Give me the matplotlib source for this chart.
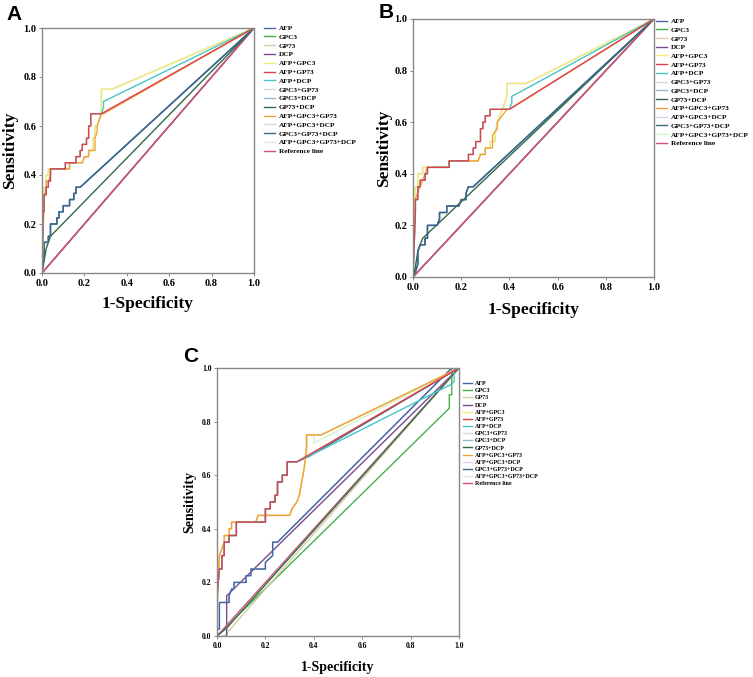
import matplotlib
matplotlib.use("Agg")
import matplotlib.pyplot as plt

plt.rcParams['font.family'] = ['Liberation Serif', 'DejaVu Serif']
plt.rcParams['font.weight'] = 'bold'

# series names and colours (legend order)
NAMES = ["AFP", "GPC3", "GP73", "DCP", "AFP+GPC3", "AFP+GP73", "AFP+DCP",
         "GPC3+GP73", "GPC3+DCP", "GP73+DCP", "AFP+GPC3+GP73", "AFP+GPC3+DCP",
         "GPC3+GP73+DCP", "AFP+GPC3+GP73+DCP", "Reference line"]
COLORS = ["#4a64a8", "#44b04c", "#d8cba4", "#7a4a8e", "#f4ea78", "#e0404a",
          "#48c4c4", "#cfdcdc", "#92b8d8", "#2f6a44", "#f0a23a", "#e4cdea",
          "#3c6a86", "#d4f2d0", "#d8507a"]

# ---- panel A (fpr, tpr) ----
A_TOP_X = [0, 0.005, 0.01, 0.01, 0.02, 0.02, 0.03, 0.03, 0.04, 0.04, 0.11, 0.11, 0.16, 0.16,
           0.18, 0.18, 0.19, 0.19, 0.21, 0.21, 0.22, 0.22, 0.23, 0.23, 0.28]
A_TOP_Y = [0, 0.25, 0.25, 0.32, 0.32, 0.35, 0.35, 0.375, 0.375, 0.425, 0.425, 0.45, 0.45, 0.475,
           0.475, 0.5, 0.5, 0.525, 0.525, 0.55, 0.55, 0.6, 0.6, 0.65, 0.65]
A_RED_X = A_TOP_X + [1.0]
A_RED_Y = A_TOP_Y + [1.0]
A_CYAN_X = A_TOP_X + [0.29, 0.29, 1.0]
A_CYAN_Y = A_TOP_Y + [0.675, 0.70, 1.0]
A_YEL_X = [0, 0.005, 0.01, 0.02, 0.02, 0.03, 0.03, 0.13, 0.13, 0.19, 0.20, 0.22, 0.22, 0.24,
           0.24, 0.25, 0.25, 0.26, 0.27, 0.28, 0.28, 0.33, 1.0]
A_YEL_Y = [0, 0.3, 0.35, 0.35, 0.4, 0.4, 0.425, 0.425, 0.45, 0.45, 0.475, 0.475, 0.5, 0.5,
           0.55, 0.55, 0.6, 0.6, 0.625, 0.65, 0.75, 0.75, 1.0]
A_ORA_X = [0, 0.01, 0.02, 0.02, 0.03, 0.04, 0.04, 0.13, 0.13, 0.19, 0.20, 0.22, 0.22, 0.25,
           0.25, 0.26, 0.26, 0.27, 0.28, 0.29, 1.0]
A_ORA_Y = [0, 0.3, 0.35, 0.375, 0.375, 0.4, 0.425, 0.425, 0.45, 0.45, 0.475, 0.475, 0.5, 0.5,
           0.55, 0.575, 0.6, 0.625, 0.65, 0.65, 1.0]
A_LOW_X = [0, 0.005, 0.01, 0.01, 0.02, 0.03, 0.03, 0.04, 0.04, 0.07, 0.07, 0.08, 0.08, 0.10,
           0.10, 0.13, 0.13, 0.15, 0.15, 0.16, 0.16, 0.18, 1.0]
A_LOW_Y = [0, 0.05, 0.05, 0.125, 0.125, 0.125, 0.15, 0.15, 0.2, 0.2, 0.225, 0.225, 0.25, 0.25,
           0.275, 0.275, 0.3, 0.3, 0.325, 0.325, 0.35, 0.35, 1.0]
A_DG_X = [0, 0.01, 0.02, 0.03, 0.04, 1.0]
A_DG_Y = [0, 0.05, 0.10, 0.125, 0.15, 1.0]

# ---- panel B ----
B_TOP_X = [0, 0.01, 0.01, 0.02, 0.02, 0.03, 0.03, 0.05, 0.05, 0.06, 0.06, 0.15, 0.15, 0.23,
           0.23, 0.25, 0.25, 0.26, 0.26, 0.28, 0.28, 0.29, 0.29, 0.30, 0.30, 0.32, 0.32, 0.40]
B_TOP_Y = [0, 0.25, 0.30, 0.30, 0.35, 0.35, 0.375, 0.375, 0.40, 0.40, 0.425, 0.425, 0.45, 0.45,
           0.475, 0.475, 0.5, 0.5, 0.525, 0.525, 0.575, 0.575, 0.6, 0.6, 0.625, 0.625, 0.65, 0.65]
B_RED_X = B_TOP_X + [1.0]
B_RED_Y = B_TOP_Y + [1.0]
B_CYAN_X = B_TOP_X + [0.41, 0.41, 1.0]
B_CYAN_Y = B_TOP_Y + [0.675, 0.70, 1.0]
B_YEL_X = [0, 0.005, 0.01, 0.02, 0.02, 0.04, 0.04, 0.15, 0.15, 0.27, 0.28, 0.30, 0.30, 0.32,
           0.32, 0.34, 0.34, 0.35, 0.36, 0.38, 0.39, 0.39, 0.47, 1.0]
B_YEL_Y = [0, 0.3, 0.35, 0.35, 0.4, 0.4, 0.425, 0.425, 0.45, 0.45, 0.475, 0.475, 0.5, 0.5,
           0.525, 0.525, 0.55, 0.6, 0.625, 0.675, 0.70, 0.75, 0.75, 1.0]
B_ORA_X = [0, 0.01, 0.02, 0.03, 0.04, 0.05, 0.06, 0.15, 0.15, 0.27, 0.28, 0.30, 0.30, 0.33,
           0.33, 0.35, 0.35, 0.37, 0.39, 0.40, 1.0]
B_ORA_Y = [0, 0.3, 0.33, 0.35, 0.375, 0.40, 0.425, 0.425, 0.45, 0.45, 0.475, 0.475, 0.5, 0.5,
           0.55, 0.575, 0.6, 0.625, 0.65, 0.65, 1.0]
B_LOW_X = [0, 0.01, 0.02, 0.02, 0.03, 0.04, 0.05, 0.05, 0.06, 0.06, 0.10, 0.11, 0.11, 0.14,
           0.14, 0.19, 0.20, 0.22, 0.22, 0.23, 0.25, 1.0]
B_LOW_Y = [0, 0.02, 0.05, 0.10, 0.125, 0.125, 0.125, 0.15, 0.15, 0.2, 0.2, 0.225, 0.25, 0.25,
           0.275, 0.275, 0.3, 0.3, 0.325, 0.35, 0.35, 1.0]
B_DG_X = [0, 0.01, 0.02, 0.03, 0.04, 1.0]
B_DG_Y = [0, 0.04, 0.10, 0.125, 0.15, 1.0]

# ---- panel C ----
C_TOP_X = [0, 0, 0.01, 0.02, 0.02, 0.03, 0.03, 0.05, 0.05, 0.08, 0.08, 0.20, 0.20, 0.22, 0.22,
           0.24, 0.24, 0.25, 0.25, 0.27, 0.27, 0.29, 0.29, 0.33]
C_TOP_Y = [0, 0.15, 0.25, 0.25, 0.30, 0.30, 0.35, 0.35, 0.375, 0.375, 0.425, 0.425, 0.475,
           0.475, 0.5, 0.5, 0.525, 0.525, 0.575, 0.575, 0.6, 0.6, 0.65, 0.65]
C_RED_X = C_TOP_X + [1.0]
C_RED_Y = C_TOP_Y + [1.0]
C_CYAN_X = C_TOP_X + [0.40, 0.97, 0.98, 0.98, 1.0]
C_CYAN_Y = C_TOP_Y + [0.68, 0.94, 0.95, 1.0, 1.0]
C_SLATE_X = C_TOP_X + [0.38, 1.0]
C_SLATE_Y = C_TOP_Y + [0.67, 1.0]
C_YEL_X = [0, 0, 0.01, 0.02, 0.02, 0.03, 0.03, 0.05, 0.05, 0.06, 0.06, 0.16, 0.17, 0.30,
           0.31, 0.33, 0.34, 0.35, 0.36, 0.37, 0.37, 0.43, 1.0]
C_YEL_Y = [0, 0.10, 0.30, 0.325, 0.325, 0.35, 0.375, 0.375, 0.40, 0.40, 0.425, 0.425, 0.45,
           0.45, 0.475, 0.5, 0.525, 0.575, 0.625, 0.70, 0.75, 0.75, 1.0]
C_PG_X = C_YEL_X[:-2] + [0.40, 0.40, 1.0]
C_PG_Y = C_YEL_Y[:-2] + [0.75, 0.72, 1.0]
C_LOW_X = [0, 0.01, 0.01, 0.05, 0.05, 0.06, 0.07, 0.07, 0.10, 0.12, 0.12, 0.14, 0.14, 0.20,
           0.20, 0.23, 0.23, 0.25, 0.97, 1.0]
C_LOW_Y = [0.025, 0.025, 0.125, 0.125, 0.15, 0.175, 0.175, 0.2, 0.2, 0.2, 0.225, 0.225, 0.25,
           0.25, 0.275, 0.3, 0.35, 0.35, 1.0, 1.0]
C_DCP_X = [0.04, 0.04, 1.0]
C_DCP_Y = [0, 0.15, 1.0]
C_GP73_X = [0, 0.03, 1.0]
C_GP73_Y = [0, 0.0, 1.0]
C_GPC3_X = [0, 0.96, 0.96, 0.97, 0.97, 1.0]
C_GPC3_Y = [0, 0.85, 0.90, 0.90, 1.0, 1.0]
C_DG_X = [0, 0.04, 1.0]
C_DG_Y = [0, 0.03, 1.0]
REF_X = [0, 1]
REF_Y = [0, 1]

# name -> curve for every panel
A_CURVES = {"AFP": (A_LOW_X, A_LOW_Y), "GPC3": (REF_X, REF_Y), "GP73": (REF_X, REF_Y),
            "DCP": (REF_X, REF_Y), "AFP+GPC3": (A_YEL_X, A_YEL_Y),
            "AFP+GP73": (A_RED_X, A_RED_Y), "AFP+DCP": (A_CYAN_X, A_CYAN_Y),
            "GPC3+GP73": (A_LOW_X, A_LOW_Y), "GPC3+DCP": (A_LOW_X, A_LOW_Y),
            "GP73+DCP": (A_DG_X, A_DG_Y), "AFP+GPC3+GP73": (A_ORA_X, A_ORA_Y),
            "AFP+GPC3+DCP": (A_YEL_X, A_YEL_Y), "GPC3+GP73+DCP": (A_LOW_X, A_LOW_Y),
            "AFP+GPC3+GP73+DCP": (A_YEL_X, A_YEL_Y), "Reference line": (REF_X, REF_Y)}
B_CURVES = {"AFP": (B_LOW_X, B_LOW_Y), "GPC3": (REF_X, REF_Y), "GP73": (REF_X, REF_Y),
            "DCP": (REF_X, REF_Y), "AFP+GPC3": (B_YEL_X, B_YEL_Y),
            "AFP+GP73": (B_RED_X, B_RED_Y), "AFP+DCP": (B_CYAN_X, B_CYAN_Y),
            "GPC3+GP73": (B_LOW_X, B_LOW_Y), "GPC3+DCP": (B_LOW_X, B_LOW_Y),
            "GP73+DCP": (B_DG_X, B_DG_Y), "AFP+GPC3+GP73": (B_ORA_X, B_ORA_Y),
            "AFP+GPC3+DCP": (B_YEL_X, B_YEL_Y), "GPC3+GP73+DCP": (B_LOW_X, B_LOW_Y),
            "AFP+GPC3+GP73+DCP": (B_YEL_X, B_YEL_Y), "Reference line": (REF_X, REF_Y)}
C_CURVES = {"AFP": (C_LOW_X, C_LOW_Y), "GPC3": (C_GPC3_X, C_GPC3_Y), "GP73": (C_GP73_X, C_GP73_Y),
            "DCP": (C_DCP_X, C_DCP_Y), "AFP+GPC3": (C_YEL_X, C_YEL_Y),
            "AFP+GP73": (C_RED_X, C_RED_Y), "AFP+DCP": (C_CYAN_X, C_CYAN_Y),
            "GPC3+GP73": (C_DG_X, C_DG_Y), "GPC3+DCP": (C_LOW_X, C_LOW_Y),
            "GP73+DCP": (C_DG_X, C_DG_Y), "AFP+GPC3+GP73": (C_YEL_X, C_YEL_Y),
            "AFP+GPC3+DCP": (C_YEL_X, C_YEL_Y), "GPC3+GP73+DCP": (C_SLATE_X, C_SLATE_Y),
            "AFP+GPC3+GP73+DCP": (C_PG_X, C_PG_Y), "Reference line": (REF_X, REF_Y)}

TICKS = [0.0, 0.2, 0.4, 0.6, 0.8, 1.0]


def draw_panel(fig, rect, curves, letter, letter_xy, tick_fs, label_fs, leg_fs, leg_xy,
               leg_space, xlab_y, ylab_x):
    ax = fig.add_axes(rect)
    # draw in an order that keeps the visible top colours on top
    order = [1, 2, 3, 14, 7, 8, 0, 9, 12, 11, 13, 4, 10, 6, 5]
    handles = {}
    for i in order:
        name = NAMES[i]
        x, y = curves[name]
        ln, = ax.plot(x, y, color=COLORS[i], lw=1.0, label=name)
        handles[name] = ln
    ax.set_xlim(0, 1)
    ax.set_ylim(0, 1)
    ax.set_xticks(TICKS)
    ax.set_yticks(TICKS)
    ax.set_xticklabels([f"{t:.1f}" for t in TICKS], fontsize=tick_fs, fontweight='bold')
    ax.set_yticklabels([f"{t:.1f}" for t in TICKS], fontsize=tick_fs, fontweight='bold')
    ax.tick_params(length=2.5, width=0.6, color="#777777", pad=1.5)
    for sp in ax.spines.values():
        sp.set_color("#888888")
        sp.set_linewidth(1.0)
    l, b, w, h = rect
    fig.text(l + w / 2, xlab_y, "1-Specificity", ha='center', va='center',
             fontsize=label_fs, fontweight='bold')
    fig.text(ylab_x, b + h / 2, "Sensitivity", ha='center', va='center', rotation=90,
             fontsize=label_fs, fontweight='bold')
    fig.text(letter_xy[0], letter_xy[1], letter, ha='center', va='center', fontsize=15,
             fontweight='bold', family=['Liberation Sans', 'DejaVu Sans'])
    fig.legend([handles[n] for n in NAMES], NAMES, loc='upper left', bbox_to_anchor=leg_xy,
               frameon=False, fontsize=leg_fs, handlelength=1.5, handletextpad=0.55,
               labelspacing=leg_space, borderpad=0, borderaxespad=0)
    return ax


fig = plt.figure(figsize=(7.53, 6.77), dpi=100)

W, H = 753.0, 677.0
draw_panel(fig, [42 / W, 1 - 273 / H, 212 / W, 245 / H], A_CURVES, "A", (14 / W, 1 - 15 / H),
           7.5, 12.5, 5.2, (264 / W, 1 - 25 / H), 0.38, 1 - 304 / H, 10 / W)
draw_panel(fig, [413 / W, 1 - 277 / H, 241 / W, 258 / H], B_CURVES, "B", (386 / W, 1 - 12 / H),
           7.5, 12.5, 5.2, (656 / W, 1 - 18 / H), 0.37, 1 - 310 / H, 384 / W)
draw_panel(fig, [217 / W, 1 - 636 / H, 242 / W, 268 / H], C_CURVES, "C", (191 / W, 1 - 357 / H),
           5.5, 10, 4.3, (463 / W, 1 - 381 / H), 0.33, 1 - 668 / H, 190 / W)

fig.savefig("out.png", dpi=100)
